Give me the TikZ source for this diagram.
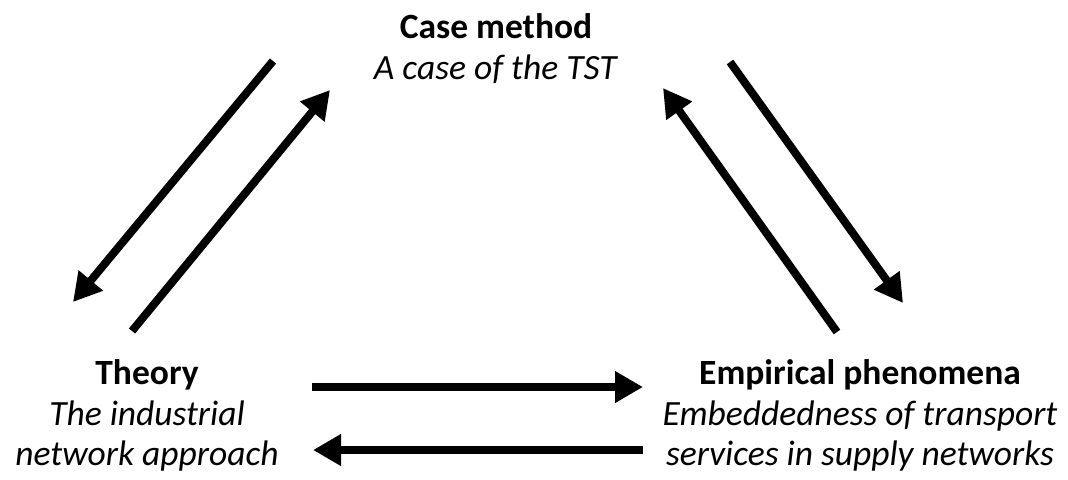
\documentclass[tikz,border=0pt]{standalone}
\usepackage{fontspec}
\setmainfont{Carlito}
\usetikzlibrary{arrows.meta}

\begin{document}
\begin{tikzpicture}
 [x=0.5pt,y=-0.5pt,
   every node/.style={align=center,anchor=north,inner sep=0pt,
     font=\fontsize{17.75pt}{20.4pt}\selectfont},
   flow/.style={line width=4pt,-{Triangle[length=14pt,width=15pt]}}]
  \useasboundingbox (0,0) rectangle (1068,479);
  % the three corners
  \node (case) at (496,13) {\textbf{Case method}\\ \textit{A case of the TST}};
  \node (theory) at (147,359) {\textbf{Theory}\\ \textit{The industrial}\\ \textit{network approach}};
  \node (emp) at (860,359) {\textbf{Empirical phenomena}\\ \textit{Embeddedness of transport}\\ \textit{services in supply networks}};
  % arrow ends
  \coordinate (ct1) at (273,61);  \coordinate (tc1) at (73,302);
  \coordinate (tc2) at (132,331); \coordinate (ct2) at (330,90);
  \coordinate (ce1) at (730,62);  \coordinate (ec1) at (903,303);
  \coordinate (ec2) at (837,332); \coordinate (ce2) at (663,88);
  \coordinate (te1) at (312,387); \coordinate (et1) at (643,387);
  \coordinate (et2) at (643,450); \coordinate (te2) at (313,450);
  \draw[flow] (ct1) -- (tc1);
  \draw[flow] (tc2) -- (ct2);
  \draw[flow] (ce1) -- (ec1);
  \draw[flow] (ec2) -- (ce2);
  \draw[flow] (te1) -- (et1);
  \draw[flow] (et2) -- (te2);
\end{tikzpicture}
\end{document}
